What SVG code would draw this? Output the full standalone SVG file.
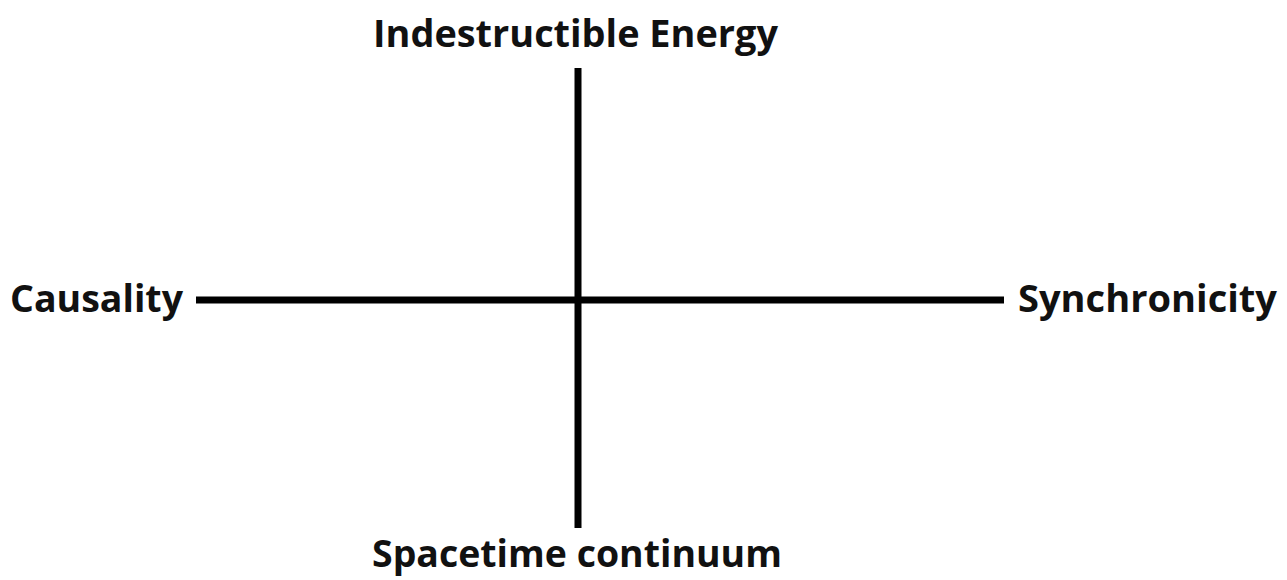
<svg xmlns="http://www.w3.org/2000/svg" width="1287" height="580" viewBox="0 0 1287 580">
<style>
.lbl{font-family:"Open Sans","Noto Sans","Liberation Sans",sans-serif;font-weight:bold;font-size:37px;fill:#111}
.axis{stroke:#000;stroke-width:7;fill:none}
</style>
<rect width="1287" height="580" fill="#fff"/>
<g id="connectors">
<line class="axis" x1="578" y1="68" x2="578" y2="528"/>
<line class="axis" x1="196" y1="300" x2="1004" y2="300"/>
</g>
<g id="top"><text class="lbl" x="373" y="47" textLength="405" lengthAdjust="spacingAndGlyphs">Indestructible Energy</text></g>
<g id="left"><text class="lbl" x="10" y="312" textLength="173" lengthAdjust="spacingAndGlyphs">Causality</text></g>
<g id="right"><text class="lbl" x="1018" y="312" textLength="259" lengthAdjust="spacingAndGlyphs">Synchronicity</text></g>
<g id="bottom"><text class="lbl" x="372" y="567" textLength="410" lengthAdjust="spacingAndGlyphs">Spacetime continuum</text></g>
</svg>
